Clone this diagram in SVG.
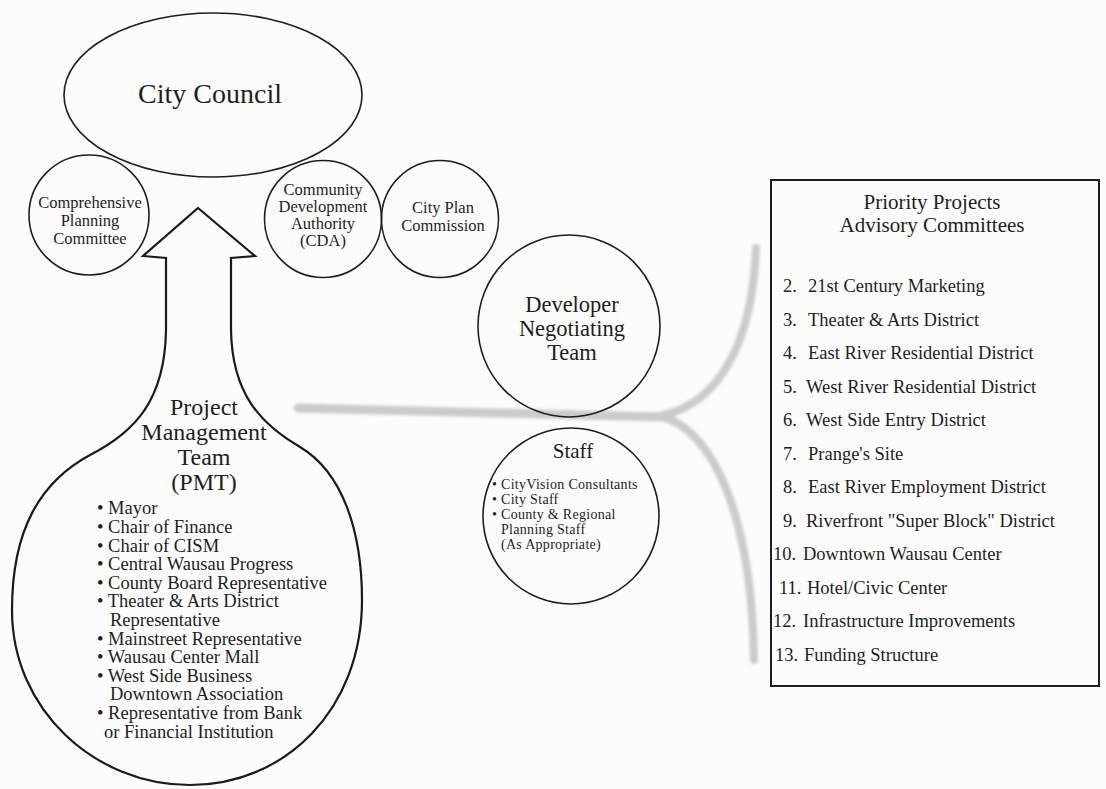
<svg xmlns="http://www.w3.org/2000/svg" width="1106" height="789" viewBox="0 0 1106 789">
<defs>
<filter id="soft" x="-20%" y="-20%" width="140%" height="140%"><feGaussianBlur stdDeviation="1.8"/></filter>
</defs>
<style>
.nd{fill:none;stroke:#1e1e1e;stroke-width:1.6}
.pmt{fill:none;stroke:#1a1a1a;stroke-width:2.2;stroke-linejoin:miter}
.box{fill:none;stroke:#1e1e1e;stroke-width:2}
.gr{fill:none;stroke:#cbcbcb;stroke-linecap:round}
text{font-family:"Liberation Serif","Times New Roman",serif;fill:#1e1e1e}
.c{text-anchor:middle}
.f28{font-size:28px}
.f24{font-size:24px}
.f22{font-size:22.5px}
.f21{font-size:21px}
.f18{font-size:18.5px}
.f17{font-size:16.5px}
.f14{font-size:14px;letter-spacing:0.3px}
</style>
<rect width="1106" height="789" fill="#fcfcfc"/>
<g id="connectors" filter="url(#soft)">
<path class="gr" stroke-width="8" d="M 660,416 C 715,405 752,350 756,248"/>
<path class="gr" stroke-width="8" d="M 660,416 C 715,430 752,520 754,660"/>
<path class="gr" stroke-width="9" d="M 662,417 L 298,408"/>
</g>
<g id="city-council">
<ellipse class="nd" cx="213" cy="95" rx="149" ry="82"/>
<text class="c f28" x="210" y="103">City Council</text>
</g>
<g id="comprehensive-planning">
<circle class="nd" cx="89" cy="215" r="60"/>
<text class="c f17" x="90" y="208">Comprehensive</text>
<text class="c f17" x="90" y="226">Planning</text>
<text class="c f17" x="90" y="244">Committee</text>
</g>
<g id="cda">
<circle class="nd" cx="323" cy="219" r="58.5"/>
<text class="c f17" x="323" y="195">Community</text>
<text class="c f17" x="323" y="212">Development</text>
<text class="c f17" x="323" y="229">Authority</text>
<text class="c f17" x="323" y="246">(CDA)</text>
</g>
<g id="city-plan">
<circle class="nd" cx="440" cy="219" r="58.5"/>
<text class="c f17" x="443" y="213">City Plan</text>
<text class="c f17" x="443" y="231">Commission</text>
</g>
<g id="developer">
<circle class="nd" cx="569" cy="326" r="91"/>
<text class="c f22" x="572" y="312">Developer</text>
<text class="c f22" x="572" y="336">Negotiating</text>
<text class="c f22" x="572" y="360">Team</text>
</g>
<g id="staff">
<circle class="nd" cx="571" cy="516" r="88"/>
<text class="c f21" x="573" y="458">Staff</text>
<text class="f14" x="492" y="489">• CityVision Consultants</text>
<text class="f14" x="492" y="504">• City Staff</text>
<text class="f14" x="492" y="519">• County &amp; Regional</text>
<text class="f14" x="501" y="534">Planning Staff</text>
<text class="f14" x="501" y="549">(As Appropriate)</text>
</g>
<g id="pmt">
<path class="pmt" d="M 198,208 L 255,256 L 231,258 L 231,330 C 232,395 262,425 300,447 C 342,472 362,530 362,600 C 362,710 285,785 190,785 C 95,785 12,710 12,610 C 12,530 40,482 90,455 C 135,432 165,400 166,330 L 166,258 L 143,256 Z"/>
<text class="c f24" x="204" y="415">Project</text>
<text class="c f24" x="204" y="440">Management</text>
<text class="c f24" x="204" y="465">Team</text>
<text class="c f24" x="204" y="490">(PMT)</text>
<text class="f18" x="97" y="514">• Mayor</text>
<text class="f18" x="97" y="533">• Chair of Finance</text>
<text class="f18" x="97" y="552">• Chair of CISM</text>
<text class="f18" x="97" y="570">• Central Wausau Progress</text>
<text class="f18" x="97" y="589">• County Board Representative</text>
<text class="f18" x="97" y="607">• Theater &amp; Arts District</text>
<text class="f18" x="110" y="626">Representative</text>
<text class="f18" x="97" y="645">• Mainstreet Representative</text>
<text class="f18" x="97" y="663">• Wausau Center Mall</text>
<text class="f18" x="97" y="682">• West Side Business</text>
<text class="f18" x="110" y="700">Downtown Association</text>
<text class="f18" x="97" y="719">• Representative from Bank</text>
<text class="f18" x="104" y="738">or Financial Institution</text>
</g>
<g id="priority-projects">
<rect class="box" x="771" y="180" width="328" height="506"/>
<text class="c f21" x="932" y="209">Priority Projects</text>
<text class="c f21" x="932" y="232">Advisory Committees</text>
<text class="f18" x="783" y="292">2.</text><text class="f18" x="808" y="292">21st Century Marketing</text>
<text class="f18" x="783" y="326">3.</text><text class="f18" x="808" y="326">Theater &amp; Arts District</text>
<text class="f18" x="783" y="359">4.</text><text class="f18" x="808" y="359">East River Residential District</text>
<text class="f18" x="783" y="393">5.</text><text class="f18" x="806" y="393">West River Residential District</text>
<text class="f18" x="783" y="426">6.</text><text class="f18" x="806" y="426">West Side Entry District</text>
<text class="f18" x="783" y="460">7.</text><text class="f18" x="808" y="460">Prange's Site</text>
<text class="f18" x="783" y="493">8.</text><text class="f18" x="808" y="493">East River Employment District</text>
<text class="f18" x="783" y="527">9.</text><text class="f18" x="806" y="527">Riverfront  "Super Block"  District</text>
<text class="f18" x="773" y="560">10.</text><text class="f18" x="803" y="560">Downtown Wausau Center</text>
<text class="f18" x="779" y="594">11.</text><text class="f18" x="807" y="594">Hotel/Civic Center</text>
<text class="f18" x="773" y="627">12.</text><text class="f18" x="803" y="627">Infrastructure Improvements</text>
<text class="f18" x="775" y="661">13.</text><text class="f18" x="804" y="661">Funding Structure</text>
</g>
</svg>
